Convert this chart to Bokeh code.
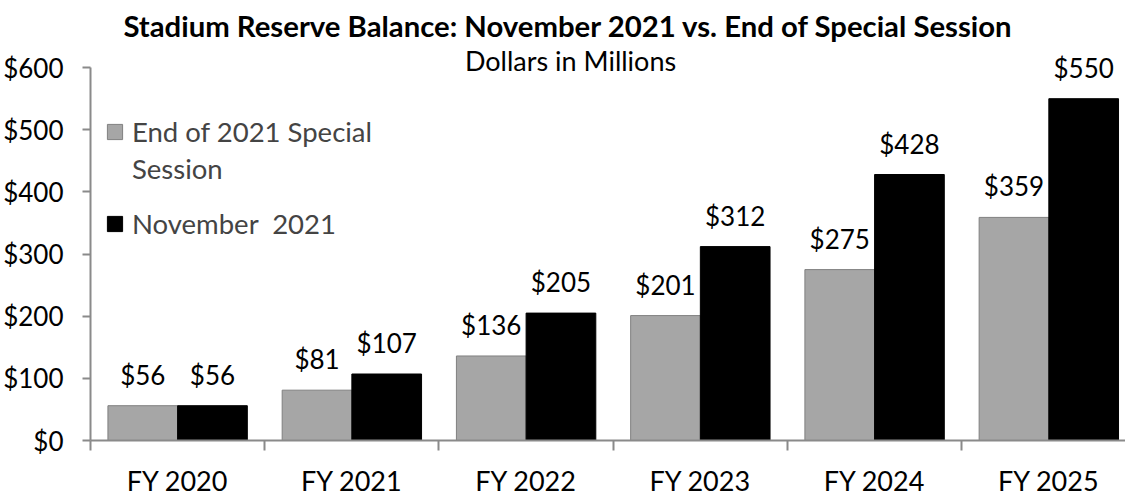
from bokeh.plotting import figure
from bokeh.models import (Range1d, FixedTicker, NumeralTickFormatter, Legend, LegendItem,
                          Label, ColumnDataSource, LabelSet)
from bokeh.core.properties import value
from bokeh.embed import file_html
from bokeh.resources import INLINE

categories = ["FY 2020", "FY 2021", "FY 2022", "FY 2023", "FY 2024", "FY 2025"]
special_session = [56, 81, 136, 201, 275, 359]
november_2021 = [56, 107, 205, 312, 428, 550]
y_ticks = [0, 100, 200, 300, 400, 500, 600]
legend_lines = ["End of 2021 Special", "Session", "November  2021"]
title_text = "Stadium Reserve Balance: November 2021 vs. End of Special Session"
subtitle_text = "Dollars in Millions"

FONT = "Lato"
AXIS_COLOR = "#8a8a8a"
n = len(categories)
centers = [i + 0.5 for i in range(n)]
bw = 0.40

src = ColumnDataSource(dict(
    gx=[c - bw / 2 for c in centers],
    bx=[c + bw / 2 for c in centers],
    g=special_session,
    b=november_2021,
    gl=[f"${v}" for v in special_session],
    bl=[f"${v}" for v in november_2021],
))

p = figure(frame_width=1035, frame_height=440, title=None,
           x_range=Range1d(0, 5.94), y_range=Range1d(0, 708),
           output_backend="svg", toolbar_location=None,
           min_border_left=87, min_border_right=0,
           min_border_top=0, min_border_bottom=0)
p.outline_line_color = None
p.xgrid.visible = False
p.ygrid.visible = False
p.background_fill_color = "white"

r1 = p.vbar(x="gx", top="g", width=bw, source=src,
            fill_color="#a6a6a6", line_color="#808080", line_width=1)
r2 = p.vbar(x="bx", top="b", width=bw, source=src,
            fill_color="black", line_color="black", line_width=1)
blank = p.vbar(x=[], top=[], width=bw, fill_alpha=0, line_alpha=0)

for xcol, tcol, ycol in (("gx", "gl", "g"), ("bx", "bl", "b")):
    p.add_layout(LabelSet(x=xcol, y=ycol, text=tcol, source=src, y_offset=21,
                          text_align="center", text_baseline="alphabetic",
                          text_font=value(FONT), text_font_size="26px",
                          text_color="black"))

# x axis
xa = p.xaxis[0]
xa.ticker = FixedTicker(ticks=centers, minor_ticks=list(range(n + 1)))
xa.major_label_overrides = {c: cat for c, cat in zip(centers, categories)}
xa.major_tick_out = 0
xa.major_tick_in = 0
xa.minor_tick_out = 10
xa.minor_tick_in = 0
xa.minor_tick_line_color = AXIS_COLOR
xa.minor_tick_line_width = 2
xa.axis_line_color = AXIS_COLOR
xa.axis_line_width = 2
xa.major_label_text_font = FONT
xa.major_label_text_font_size = "27px"
xa.major_label_text_color = "black"
xa.major_label_standoff = 13

# y axis (line only up to the top tick)
ya = p.yaxis[0]
ya.bounds = (y_ticks[0], y_ticks[-1])
ya.ticker = FixedTicker(ticks=y_ticks)
ya.formatter = NumeralTickFormatter(format="$0")
ya.major_tick_out = 8
ya.major_tick_in = 0
ya.minor_tick_out = 0
ya.minor_tick_in = 0
ya.major_tick_line_color = AXIS_COLOR
ya.major_tick_line_width = 2
ya.axis_line_color = AXIS_COLOR
ya.axis_line_width = 2
ya.major_label_text_font = FONT
ya.major_label_text_font_size = "26px"
ya.major_label_text_color = "black"
ya.major_label_standoff = 19

# titles
p.add_layout(Label(x=2.743, y=667, text=title_text, text_align="center",
                   text_baseline="alphabetic", text_font=FONT, text_font_style="bold",
                   text_font_size="29.3px", text_color="black"))
p.add_layout(Label(x=2.755, y=612, text=subtitle_text, text_align="center",
                   text_baseline="alphabetic", text_font=FONT,
                   text_font_size="27px", text_color="black"))

common = dict(padding=0, margin=0, spacing=4, glyph_width=19, glyph_height=19,
              label_height=32, label_standoff=8, label_text_font=FONT,
              label_text_font_size="27.5px", background_fill_alpha=0,
              border_line_color=None)
legend_a = Legend(items=[LegendItem(label=legend_lines[0], renderers=[r1]),
                         LegendItem(label=legend_lines[1], renderers=[blank])],
                  location=(15, 255), **common)
legend_b = Legend(items=[LegendItem(label=legend_lines[2], renderers=[r2])],
                  location=(15, 200), **common)
p.add_layout(legend_a)
p.add_layout(legend_b)

open("out.html", "w").write(file_html(p, INLINE))
